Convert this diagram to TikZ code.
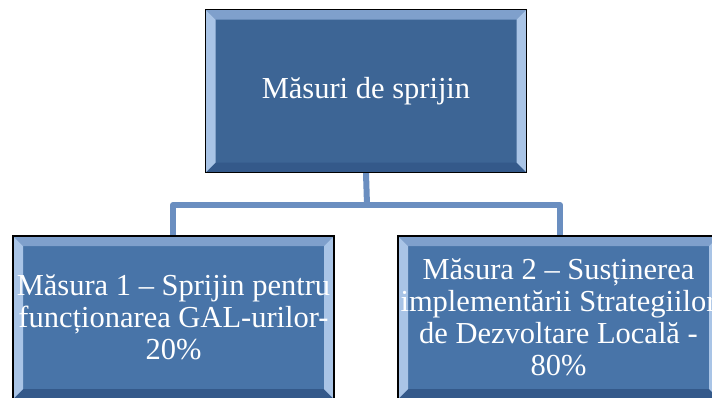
\documentclass[tikz,border=0pt]{standalone}
\usepackage{fontspec}
\setmainfont{Liberation Serif}
\usetikzlibrary{backgrounds}
\definecolor{topfill}{HTML}{3D6595}
\definecolor{botfill}{HTML}{4874A8}
\definecolor{bevside}{HTML}{A9C4E6}
\definecolor{bevtop}{HTML}{7FA0CC}
\definecolor{bevbot}{HTML}{34598A}
\definecolor{connc}{HTML}{6A8EC0}
\tikzset{
  bevelbox/.style={draw=black, line width=1.3pt, minimum width=321pt, minimum height=163pt,
    text=white, font=\fontsize{30.5}{32}\selectfont, align=center, inner sep=0pt,
    path picture={
      \fill[bevtop] (path picture bounding box.north west) -- (path picture bounding box.north east)
        -- ([shift={(-10,10)}]path picture bounding box.north east) -- ([shift={(10,10)}]path picture bounding box.north west) -- cycle;
      \fill[bevbot] (path picture bounding box.south west) -- (path picture bounding box.south east)
        -- ([shift={(-10,-10)}]path picture bounding box.south east) -- ([shift={(10,-10)}]path picture bounding box.south west) -- cycle;
      \fill[bevside] (path picture bounding box.north west) -- ([shift={(10,10)}]path picture bounding box.north west)
        -- ([shift={(10,-10)}]path picture bounding box.south west) -- (path picture bounding box.south west) -- cycle;
      \fill[bevside] (path picture bounding box.north east) -- ([shift={(-10,10)}]path picture bounding box.north east)
        -- ([shift={(-10,-10)}]path picture bounding box.south east) -- (path picture bounding box.south east) -- cycle;
    }},
  topbox/.style={bevelbox, fill=topfill},
  subbox/.style={bevelbox, fill=botfill},
  conn/.style={draw=connc, line width=6pt, line join=round}
}
\begin{document}
\begin{tikzpicture}[x=1pt,y=-1pt]
\useasboundingbox (0,0) rectangle (712,397);
\clip (0,0) rectangle (712,397);
\node[topbox] (top) at (366,91) {Măsuri de sprijin};
\node[subbox] (left) at (173.5,317.5) {Măsura 1 – Sprijin pentru\\funcționarea GAL-urilor-\\20\%};
\node[subbox] (right) at (558.5,317.5) {Măsura 2 – Susținerea\\implementării Strategiilor\\de Dezvoltare Locală -\\80\%};
\coordinate (j) at (367,205);
\begin{scope}[on background layer]
\fill[white] (0,0) rectangle (712,397);
\draw[conn] (top.south) -- (j);
\draw[conn] (j) -| ([xshift=-0.5pt]left.north);
\draw[conn] (j) -| ([xshift=1.5pt]right.north);
\end{scope}
\end{tikzpicture}
\end{document}
